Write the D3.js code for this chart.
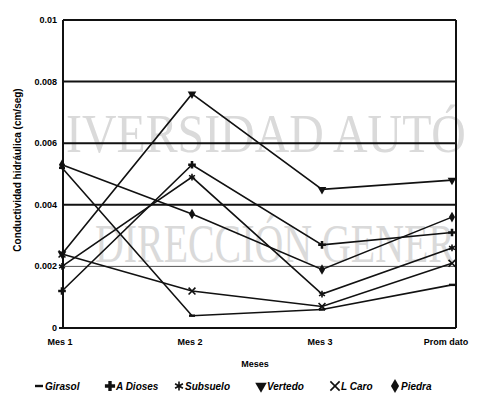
<!DOCTYPE html>
<html>
<head>
<meta charset="utf-8">
<script src="https://cdn.jsdelivr.net/npm/d3@7"></script>
<style>
  body { margin: 0; background: #fff; }
  svg { display: block; font-family: "Liberation Sans", Arial, sans-serif; }
</style>
</head>
<body>
<svg id="chart" width="480" height="403"></svg>
<script>
// categories and tick labels
const meses = ["Mes 1", "Mes 2", "Mes 3", "Prom dato"];
const yTicks = [0, 0.002, 0.004, 0.006, 0.008, 0.01];
const yTickLabels = ["0", "0.002", "0.004", "0.006", "0.008", "0.01"];

// one array per series (cm/seg)
const girasol  = [0.0052, 0.0004, 0.0006, 0.0014];
const aDioses  = [0.0012, 0.0053, 0.0027, 0.0031];
const subsuelo = [0.0020, 0.0049, 0.0011, 0.0026];
const vertedo  = [0.0024, 0.0076, 0.0045, 0.0048];
const lCaro    = [0.0024, 0.0012, 0.0007, 0.0021];
const piedra   = [0.0053, 0.0037, 0.0019, 0.0036];

const names = ["Girasol", "A Dioses", "Subsuelo", "Vertedo", "L Caro", "Piedra"];
const values = [girasol, aDioses, subsuelo, vertedo, lCaro, piedra];

const series = names.map((n, i) => ({ name: n, values: values[i], idx: i }));

const svg = d3.select("#chart");

// faint watermark from the scanned page, squeezed to fit its width
const wm = svg.append("g").attr("fill", "#dadada")
  .attr("font-family", "'Liberation Serif', 'DejaVu Serif', serif")
  .attr("font-size", 54);
[["IVERSIDAD AUTÓ", 66, 152, 400], ["DIRECCIÓN GENER", 95, 262, 360]].forEach(w => {
  const t = wm.append("text").text(w[0]);
  const len = t.node().getComputedTextLength();
  t.attr("transform", `translate(${w[1]},${w[2]}) scale(${w[3] / len},1)`);
});

const x = d3.scalePoint().domain(meses).range([62, 452]);
const y = d3.scaleLinear().domain([0, 0.01]).range([328, 20]);

const left = 63, right = 456;

// horizontal grid lines
svg.append("g")
  .selectAll("line")
  .data(yTicks.filter(d => d > 0))
  .enter()
  .append("line")
  .attr("x1", left)
  .attr("x2", right)
  .attr("y1", d => y(d))
  .attr("y2", d => y(d))
  .attr("stroke", d => d === 0.002 ? "#555" : "#111")
  .attr("stroke-width", d => d === 0.002 ? 1 : 2);

// frame: left axis, right side, bottom
svg.append("line").attr("x1", left).attr("x2", left).attr("y1", y(0.01)).attr("y2", y(0))
  .attr("stroke", "#111").attr("stroke-width", 2);
svg.append("line").attr("x1", right).attr("x2", right).attr("y1", y(0.01)).attr("y2", y(0))
  .attr("stroke", "#111").attr("stroke-width", 2);
svg.append("line").attr("x1", left - 4).attr("x2", right).attr("y1", y(0)).attr("y2", y(0))
  .attr("stroke", "#111").attr("stroke-width", 2);

// y tick labels
svg.append("g")
  .selectAll("text")
  .data(yTicks)
  .enter()
  .append("text")
  .attr("x", 57)
  .attr("y", d => y(d) + 3)
  .attr("text-anchor", "end")
  .attr("font-size", 9)
  .attr("font-weight", "bold")
  .text((d, i) => yTickLabels[i]);

// x tick labels
svg.append("g")
  .selectAll("text")
  .data(meses)
  .enter()
  .append("text")
  .attr("x", (d, i) => i === meses.length - 1 ? x(d) - 6 : x(d) - 2)
  .attr("y", 345)
  .attr("text-anchor", "middle")
  .attr("font-size", 9)
  .attr("font-weight", "bold")
  .text(d => d);

// axis titles
svg.append("text")
  .attr("x", 255).attr("y", 367)
  .attr("text-anchor", "middle")
  .attr("font-size", 9).attr("font-weight", "bold")
  .text("Meses");

svg.append("text")
  .attr("transform", "translate(21,170) rotate(-90)")
  .attr("text-anchor", "middle")
  .attr("font-size", 10).attr("font-weight", "bold")
  .text("Conductividad hidráulica (cm/seg)");

// lines
const line = d3.line()
  .x((d, i) => x(meses[i]))
  .y(d => y(d));

svg.append("g")
  .selectAll("path")
  .data(series)
  .enter()
  .append("path")
  .attr("d", d => line(d.values))
  .attr("fill", "none")
  .attr("stroke", "#111")
  .attr("stroke-width", 1.6);

// markers
const symbolTypes = [
  null,
  d3.symbolCross,
  d3.symbolAsterisk || d3.symbolCross,
  d3.symbolTriangle,
  d3.symbolTimes || d3.symbolX || d3.symbolCross,
  d3.symbolDiamond
];
const strokeOnly = [false, false, true, false, true, false];

function drawMarker(g, idx, cx, cy, size) {
  if (idx === 0) {
    g.append("rect")
      .attr("x", cx - size / 2).attr("y", cy - 1.2)
      .attr("width", size).attr("height", 2.4)
      .attr("fill", "#111");
    return;
  }
  const p = g.append("path")
    .attr("d", d3.symbol().type(symbolTypes[idx]).size(size * size * 0.9)())
    .attr("transform", `translate(${cx},${cy})` + (idx === 3 ? " rotate(180)" : ""));
  if (strokeOnly[idx]) {
    p.attr("fill", "none").attr("stroke", "#111").attr("stroke-width", 1.6);
  } else {
    p.attr("fill", "#111");
  }
}

const markers = svg.append("g");
series.forEach(s => {
  s.values.forEach((v, i) => {
    drawMarker(markers, s.idx, x(meses[i]), y(v), 6);
  });
});

// legend
const legend = svg.append("g");
const legendX = [34, 105, 174, 256, 330, 390];
series.forEach((s, i) => {
  drawMarker(legend, s.idx, legendX[i] + 5, 386, 8);
  legend.append("text")
    .attr("x", legendX[i] + 11)
    .attr("y", 390)
    .attr("font-size", 10)
    .attr("font-weight", "bold")
    .attr("font-style", "italic")
    .text(s.name);
});
</script>
</body>
</html>
